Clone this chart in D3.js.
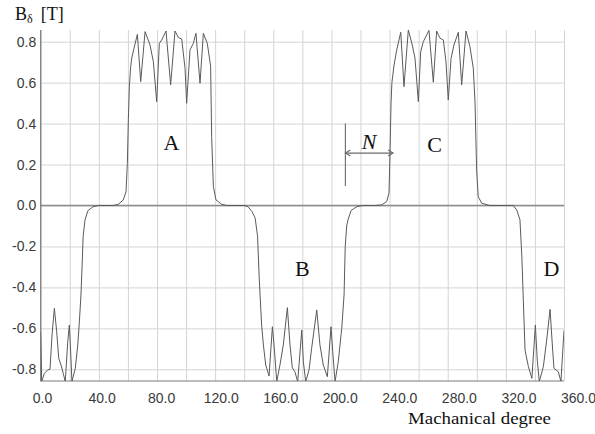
<!DOCTYPE html>
<html>
<head>
<meta charset="utf-8">
<title>Air gap flux density</title>
<script src="https://cdn.jsdelivr.net/npm/d3@7/dist/d3.min.js"></script>
<style>
    body { margin: 0; background: #fff; }
    svg { display: block; }
    .tick text { font-family: "Liberation Sans", Arial, sans-serif; font-size: 14px; fill: #3a3a3a; }
    .serif { font-family: "Liberation Serif", "Times New Roman", serif; fill: #111; }
</style>
</head>
<body>
<script>

    // mechanical angle (deg) and air gap flux density (T)
    var angle = [0, 0.7, 2.5, 4.8, 6.4, 7.8, 9.4, 11, 12.4, 14, 15.5, 16.9, 18.6, 19.7, 20.4, 21.5, 23.8, 25.5, 26.6, 27.7,
        28.3, 29.2, 30.5, 32.5, 36, 40, 50,
        53.4, 56.8, 58.7, 59.6, 60.3, 61, 61.9, 62.6, 64.2, 66.5, 68.8, 71.8, 75.2, 77.5, 79.8, 81.6, 83.2, 86.2, 89.4,
        92.4, 94.7, 97, 99.3, 100.4, 102.7, 105, 106.8, 109.6, 111.9, 114.6, 116.9, 117.6, 118.8, 120.6, 124.5, 128, 140,
        142.6, 145.4, 147.5, 149.2, 150.3, 150.9, 152, 153.2, 154.8, 157.1, 159.4, 160.7, 162.4, 164.6, 166.9, 169.7,
        171.5, 173.1, 174.9, 176.8, 179.6, 180.7, 182.3, 184.6, 186.4, 189.9, 192.1, 194.4, 197.2, 199.7, 200.9, 202.5,
        204.7, 207.1, 208.7, 209.5, 210.5, 211.4, 213.5, 217.6, 222, 230,
        234.6, 238, 239.6, 240.3, 241, 241.6, 243.1, 244.9, 247.7, 249.9, 252.9, 255.6, 257.5, 259.8, 261.4, 263.2, 267.1,
        270.1, 272.4, 274.7, 277, 278.8, 280.4, 282.3, 284.3, 287.3, 289.6, 292.6, 295.3, 297.6, 298.8, 299.9, 301, 303.4,
        309, 322,
        325.1, 327.5, 329.7, 331, 332, 333.2, 335.5, 337.9, 340.3, 341.6, 343, 345.8, 348.1, 350.4, 352.2, 353.1, 356.1,
        357.9, 360];

    var flux = [-0.62, -0.86, -0.82, -0.803, -0.8, -0.632, -0.502, -0.616, -0.746, -0.779, -0.82, -0.86, -0.665, -0.584,
        -0.681, -0.86, -0.795, -0.681, -0.568, -0.437,
        -0.33, -0.15, -0.07, -0.025, -0.006, 0, 0,
        0.006, 0.027, 0.067, 0.205, 0.42, 0.58, 0.678, 0.719, 0.768, 0.836, 0.605, 0.849, 0.784, 0.702, 0.507, 0.792,
        0.808, 0.852, 0.589,
        0.852, 0.82, 0.813, 0.67, 0.499, 0.76, 0.792, 0.841, 0.597, 0.841, 0.792, 0.68, 0.336, 0.092, 0.027, 0.006, 0, 0,
        -0.006, -0.03, -0.06, -0.15, -0.35, -0.437, -0.584, -0.681, -0.779, -0.833, -0.592, -0.697, -0.86, -0.779,
        -0.681, -0.499,
        -0.681, -0.792, -0.812, -0.86, -0.608, -0.763, -0.86, -0.803, -0.697, -0.51, -0.681, -0.779, -0.836, -0.592,
        -0.714, -0.86,
        -0.763, -0.6, -0.437, -0.2, -0.1, -0.07, -0.025, -0.005, 0, 0,
        0.003, 0.019, 0.06, 0.255, 0.5, 0.6, 0.686, 0.759, 0.846, 0.58, 0.857, 0.784, 0.719, 0.507, 0.751, 0.8, 0.855,
        0.602, 0.852, 0.817, 0.808, 0.702, 0.515, 0.719, 0.784, 0.846, 0.589, 0.852, 0.776, 0.67, 0.5, 0.173, 0.043, 0.011,
        0, 0,
        0, -0.022, -0.07, -0.25, -0.46, -0.706, -0.787, -0.844, -0.584, -0.755, -0.86, -0.787, -0.657, -0.507, -0.706,
        -0.795, -0.812, -0.86, -0.61];

    var xTicks = [0, 40, 80, 120, 160, 200, 240, 280, 320, 360];
    var yTicks = [-0.8, -0.6, -0.4, -0.2, 0, 0.2, 0.4, 0.6, 0.8];
    var xGrid = d3.range(0, 361, 20);

    // pole labels, anchored in data units (deg, T)
    var poleName = ["A", "B", "C", "D"];
    var poleDeg = [90, 180, 271, 351.4];
    var poleVal = [0.27, -0.344, 0.26, -0.344];

    // the N span marker: from deg to deg at a flux level
    var spanFrom = 209.6, spanTo = 242.4, spanVal = 0.256;
    var spanBar = [0.4, 0.095];

    var width = 595, height = 434;
    var margin = {top: 30, left: 40.7, right: 31, bottom: 53};

    var svg = d3.select("body").append("svg")
            .attr("width", width)
            .attr("height", height);

    svg.append("rect").attr("width", width).attr("height", height).attr("fill", "#fff");

    var x = d3.scaleLinear().domain([0, 360]).range([margin.left, width - margin.right]);
    var y = d3.scaleLinear().domain([-0.857, 0.857]).range([height - margin.bottom, margin.top]);
    // the tick labels in the original sit a little to the right of the grid
    var xLab = x.copy().range([42, 578]);

    var plotW = x.range()[1] - x.range()[0],
        plotH = y.range()[0] - y.range()[1];

    // grid
    svg.append("g")
            .attr("transform", "translate(0," + y.range()[0] + ")")
            .call(d3.axisBottom(x).tickValues(xGrid).tickSize(-plotH).tickFormat(""))
            .call(function (g) {
                g.select(".domain").remove();
                g.selectAll("line").attr("stroke", "#d4d4d4");
            });

    svg.append("g")
            .attr("transform", "translate(" + x.range()[0] + ",0)")
            .call(d3.axisLeft(y).tickValues(yTicks).tickSize(-plotW).tickFormat(""))
            .call(function (g) {
                g.select(".domain").remove();
                g.selectAll("line").attr("stroke", "#d4d4d4");
            });

    // zero line is drawn heavier
    svg.append("line")
            .attr("x1", x(0)).attr("x2", x(360))
            .attr("y1", y(0)).attr("y2", y(0))
            .attr("stroke", "#8a8a8a")
            .attr("stroke-width", 1.6);

    // axes (labels only) + frame lines
    svg.append("g")
            .attr("transform", "translate(0," + y.range()[0] + ")")
            .call(d3.axisBottom(xLab).tickValues(xTicks).tickSize(0).tickPadding(12)
                    .tickFormat(function (d) { return d.toFixed(1); }))
            .call(function (g) { g.select(".domain").remove(); });

    svg.append("g")
            .attr("transform", "translate(" + x.range()[0] + ",0)")
            .call(d3.axisLeft(y).tickValues(yTicks).tickSize(0).tickPadding(4.5)
                    .tickFormat(function (d) { return d.toFixed(1); }))
            .call(function (g) { g.select(".domain").remove(); });

    svg.append("path")
            .attr("d", "M" + x(0) + "," + y.range()[1] + "V" + y.range()[0] + "H" + x(360))
            .attr("fill", "none")
            .attr("stroke", "#7a7a7a")
            .attr("stroke-width", 1.2);

    // flux curve, clipped to the plot
    svg.append("defs").append("clipPath")
            .attr("id", "plot-clip")
            .append("rect")
            .attr("x", x.range()[0]).attr("y", y.range()[1])
            .attr("width", plotW).attr("height", plotH);

    var line = d3.line()
            .x(function (d) { return x(d); })
            .y(function (d, i) { return y(flux[i]); });

    svg.append("path")
            .datum(angle)
            .attr("clip-path", "url(#plot-clip)")
            .attr("d", line)
            .attr("fill", "none")
            .attr("stroke", "#5a5a5a")
            .attr("stroke-width", 1)
            .attr("stroke-linejoin", "round");

    // pole letters
    svg.selectAll("text.pole")
            .data(poleName)
            .enter().append("text")
            .attr("class", "pole serif")
            .attr("x", function (d, i) { return x(poleDeg[i]); })
            .attr("y", function (d, i) { return y(poleVal[i]); })
            .attr("text-anchor", "middle")
            .style("font-size", "22px")
            .text(function (d) { return d; });

    // N span marker
    var mark = svg.append("g").attr("stroke", "#6a6a6a").attr("fill", "none").attr("stroke-width", 1.1);
    mark.append("line")
            .attr("x1", x(spanFrom)).attr("x2", x(spanFrom))
            .attr("y1", y(spanBar[0])).attr("y2", y(spanBar[1]));
    mark.append("line")
            .attr("x1", x(spanFrom)).attr("x2", x(spanTo))
            .attr("y1", y(spanVal)).attr("y2", y(spanVal));
    mark.append("path")
            .attr("d", "M" + (x(spanFrom) + 5) + "," + (y(spanVal) - 3) + "L" + x(spanFrom) + "," + y(spanVal)
                    + "L" + (x(spanFrom) + 5) + "," + (y(spanVal) + 3));
    mark.append("path")
            .attr("d", "M" + (x(spanTo) - 5) + "," + (y(spanVal) - 3) + "L" + x(spanTo) + "," + y(spanVal)
                    + "L" + (x(spanTo) - 5) + "," + (y(spanVal) + 3));

    svg.append("text")
            .attr("class", "serif")
            .attr("x", x((spanFrom + spanTo) / 2))
            .attr("y", y(spanVal) - 4)
            .attr("text-anchor", "middle")
            .style("font-size", "22px")
            .style("font-style", "italic")
            .text("N");

    // unit title and axis name
    var title = svg.append("text")
            .attr("class", "serif")
            .attr("x", 15)
            .attr("y", 20)
            .style("font-size", "18px");
    title.append("tspan").text("B");
    title.append("tspan").attr("dy", 3).style("font-size", "12px").text("\u03B4");
    title.append("tspan").attr("dy", -3).attr("dx", 8).text("[T]");

    svg.append("text")
            .attr("class", "serif")
            .attr("x", 408)
            .attr("y", 424)
            .attr("textLength", 143)
            .attr("lengthAdjust", "spacingAndGlyphs")
            .style("font-size", "17px")
            .text("Machanical degree");

</script>
</body>
</html>
